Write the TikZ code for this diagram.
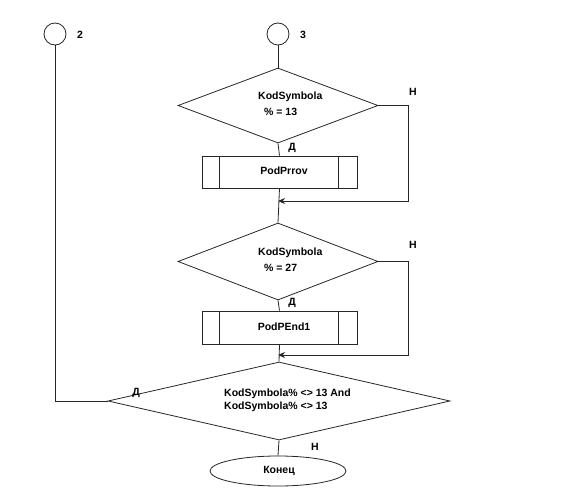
\documentclass[tikz,border=0pt]{standalone}
\usepackage{fontspec}
\setmainfont{Liberation Sans}
\usetikzlibrary{shapes.geometric,arrows.meta}
\begin{document}
\begin{tikzpicture}[x=1pt,y=-1pt,
  line/.style={draw=black!85,line width=0.8pt},
  conn/.style={circle,draw=black!85,line width=0.8pt,minimum size=22pt,inner sep=0pt},
  dec/.style={diamond,draw=black!85,line width=0.8pt,inner sep=0pt},
  sub/.style={rectangle,draw=black!85,line width=0.8pt,minimum width=155pt,minimum height=32pt,inner sep=0pt},
  term/.style={ellipse,draw=black!85,line width=0.8pt,minimum width=136pt,minimum height=30pt,inner sep=0pt},
  txt/.style={font=\bfseries\fontsize{10.5}{13}\selectfont,inner sep=0pt},
  arr/.style={line,-{Stealth[length=7pt,width=6pt]}}
]
\useasboundingbox (0,0) rectangle (567,500);
% connectors
\node[conn] (c2) at (55,34) {};
\node[conn] (c3) at (278,34) {};
\node[txt] (n2) at (80,35) {2};
\node[txt] (n3) at (303,35) {3};
% decision 1
\node[dec,minimum width=200pt,minimum height=75pt] (d1) at (278,105.5) {};
\node[txt,anchor=west] (t1a) at (258,97) {KodSymbola};
\node[txt,anchor=west] (t1b) at (264,112) {\% = 13};
\node[txt] (y1) at (292,148) {Д};
\node[txt] (h1) at (413,92) {Н};
% subroutine 1
\node[sub] (b1) at (279.5,172) {};
\draw[line] ([xshift=18pt]b1.north west) -- ([xshift=18pt]b1.south west);
\draw[line] ([xshift=-19pt]b1.north east) -- ([xshift=-19pt]b1.south east);
\node[txt] (tb1) at (284,171) {PodPrrov};
% decision 2
\node[dec,minimum width=200pt,minimum height=77pt] (d2) at (278,261.5) {};
\node[txt,anchor=west] (t2a) at (258,253) {KodSymbola};
\node[txt,anchor=west] (t2b) at (264,268) {\% = 27};
\node[txt] (y2) at (292,303) {Д};
\node[txt] (h2) at (413,245) {Н};
% subroutine 2
\node[sub,minimum height=33pt] (b2) at (279.5,327.5) {};
\draw[line] ([xshift=18pt]b2.north west) -- ([xshift=18pt]b2.south west);
\draw[line] ([xshift=-19pt]b2.north east) -- ([xshift=-19pt]b2.south east);
\node[txt] (tb2) at (284,327) {PodPEnd1};
% decision 3
\node[dec,minimum width=342pt,minimum height=78pt] (d3) at (279,401) {};
\node[txt,anchor=west,align=left] (t3) at (224,400) {KodSymbola\% <> 13 And\\KodSymbola\% <> 13};
\node[txt] (y3) at (136,393) {Д};
\node[txt] (h3) at (315,447) {Н};
% terminal
\node[term] (e) at (278,471) {};
\node[txt] (te) at (279,471) {Конец};
% junction points
\coordinate (j1) at (278,201);
\coordinate (j2) at (278,355);
% flow
\draw[line] (c3) -- (d1.north);
\draw[line] (d1.south) -- (b1.north);
\draw[line] (b1.south) -- (d2.north);
\draw[arr] (d1.east) -- (408,105.5) |- (j1);
\draw[line] (d2.south) -- (b2.north);
\draw[line] (b2.south) -- (d3.north);
\draw[arr] (d2.east) -- (408,261.5) |- (j2);
\draw[line] (c2) |- (d3.west);
\draw[line] (d3.south) -- (e.north);
\end{tikzpicture}
\end{document}
